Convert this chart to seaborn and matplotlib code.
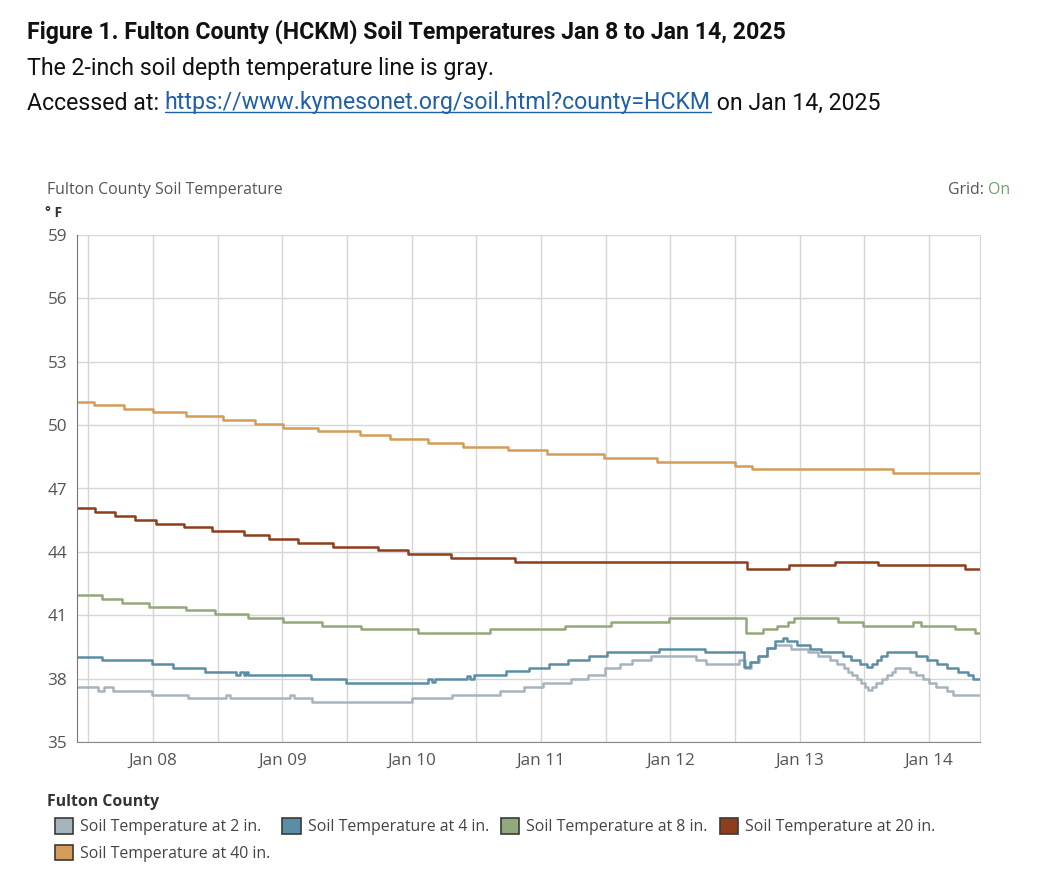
import numpy as np
import pandas as pd
import matplotlib
matplotlib.use("Agg")
import matplotlib.pyplot as plt
import matplotlib.dates as mdates
from matplotlib.patches import Patch
from matplotlib.lines import Line2D
import seaborn as sns

START = pd.Timestamp("2025-01-07 00:00")

# breakpoints: hours after Jan 7 00:00, value holds until next breakpoint
t2 = [10, 13.8, 15, 16.6, 23.8, 30.5, 37.5, 38.3, 49.4, 50.1, 53.6, 72.1, 79.5, 88.4,
      92.8, 96.3, 101.5, 104.8, 107.9, 110.7, 112.9, 116.4, 124.7, 126.7, 132.8, 133.8,
      135, 136.5, 138, 139.4, 142.4, 145.6, 147.5, 149.7, 151, 152.3, 153, 153.8, 154.7,
      155.5, 156.2, 156.8, 157.4, 158.2, 159.4, 160.3, 161.2, 161.7, 164.5, 165.6, 166.9,
      168.1, 169.4, 171.3, 172.5, 177.5]
v2 = [37.6, 37.43, 37.6, 37.43, 37.24, 37.07, 37.24, 37.07, 37.24, 37.07, 36.89, 37.07,
      37.24, 37.43, 37.6, 37.79, 37.98, 38.16, 38.5, 38.69, 38.88, 39.06, 38.88, 38.69,
      38.88, 38.5, 38.77, 39.06, 39.45, 39.61, 39.42, 39.25, 39.06, 38.88, 38.69, 38.5,
      38.33, 38.16, 37.98, 37.79, 37.6, 37.48, 37.6, 37.79, 37.98, 38.16, 38.33, 38.5,
      38.33, 38.16, 37.98, 37.79, 37.6, 37.43, 37.24, 37.24]

t4 = [10, 14.6, 23.8, 27.8, 33.7, 39.5, 40.2, 40.9, 41.3, 41.7, 53.3, 59.8, 75, 75.8,
      76.4, 82.2, 82.9, 83.5, 89.6, 93.7, 97.5, 101.1, 105, 108.2, 118, 126.5, 133.7,
      134.8, 136.3, 138, 139.4, 141, 141.7, 143.6, 146, 147.9, 152, 153.5, 155.2, 156.5,
      157.4, 158.3, 159.2, 160.2, 165.7, 167.6, 169.5, 171.3, 173.5, 175.2, 176.2, 177.5]
v4 = [39.03, 38.87, 38.69, 38.51, 38.33, 38.16, 38.33, 38.16, 38.33, 38.16, 37.98, 37.79,
      37.98, 37.85, 37.98, 38.12, 37.98, 38.16, 38.35, 38.52, 38.69, 38.88, 39.06, 39.25,
      39.42, 39.25, 38.55, 38.77, 39.06, 39.45, 39.77, 39.93, 39.77, 39.61, 39.42, 39.25,
      39.06, 38.88, 38.69, 38.55, 38.69, 38.88, 39.06, 39.25, 39.06, 38.88, 38.69, 38.52,
      38.33, 38.16, 37.98, 37.98]

t8 = [10, 14.6, 18.2, 23.3, 30.1, 35.6, 41.6, 48.2, 55.3, 62.7, 73.2, 86.6, 100.5, 109,
      119.7, 134, 137.2, 139.8, 141.8, 143, 151.2, 155.8, 165, 166.6, 172.9, 176.6, 177.5]
v8 = [41.97, 41.79, 41.6, 41.41, 41.23, 41.05, 40.87, 40.69, 40.51, 40.33, 40.15, 40.33,
      40.5, 40.68, 40.87, 40.16, 40.33, 40.5, 40.68, 40.87, 40.68, 40.51, 40.68, 40.51,
      40.33, 40.16, 40.16]

t20 = [10, 13.2, 16.9, 20.6, 24.5, 29.7, 35, 40.9, 45.5, 51, 57.5, 65.8, 71.4, 79.4,
       91.2, 134.3, 142, 150.6, 158.6, 174.7, 177.5]
v20 = [46.07, 45.88, 45.7, 45.52, 45.34, 45.17, 44.98, 44.81, 44.62, 44.44, 44.25, 44.09,
       43.9, 43.72, 43.54, 43.19, 43.38, 43.54, 43.38, 43.19, 43.19]

t40 = [10, 13, 18.7, 24, 30.1, 37, 42.9, 48.2, 54.7, 62.4, 68, 75.1, 81.6, 89.9, 97.2,
       107.7, 117.6, 132, 135.1, 161.4, 177.5]
v40 = [51.1, 50.95, 50.77, 50.6, 50.42, 50.24, 50.06, 49.88, 49.7, 49.52, 49.34, 49.16,
       48.98, 48.8, 48.62, 48.44, 48.26, 48.08, 47.9, 47.72, 47.72]

labels = ["Soil Temperature at 2 in.", "Soil Temperature at 4 in.",
          "Soil Temperature at 8 in.", "Soil Temperature at 20 in.",
          "Soil Temperature at 40 in."]
colors = ["#a6b4bc", "#5b8ea5", "#93a87b", "#8c3f1a", "#d49c58"]

frames = []
for lab, tt, vv in zip(labels, [t2, t4, t8, t20, t40], [v2, v4, v8, v20, v40]):
    frames.append(pd.DataFrame({"time": START + pd.to_timedelta(tt, unit="h"),
                                "temp": vv, "series": lab}))
df = pd.concat(frames, ignore_index=True)

sns.set_style("white")
plt.rcParams["font.family"] = ["Open Sans", "DejaVu Sans"]

fig = plt.figure(figsize=(10.38, 8.96), dpi=100)
ax = fig.add_axes([77 / 1038, 1 - 742 / 896, (980 - 77) / 1038, (742 - 235) / 896])

sns.lineplot(data=df, x="time", y="temp", hue="series", palette=dict(zip(labels, colors)),
             estimator=None, drawstyle="steps-post", linewidth=1.8, legend=False, ax=ax)

ax.set_xlim(START + pd.Timedelta(hours=9.9), START + pd.Timedelta(hours=177.5))
ax.set_ylim(35, 59)
ax.set_yticks(np.arange(35, 60, 3))
ax.xaxis.set_major_locator(mdates.DayLocator())
ax.xaxis.set_major_formatter(mdates.DateFormatter("%b %d"))
ax.xaxis.set_minor_locator(mdates.HourLocator(byhour=[12]))
ax.grid(True, which="both", color="#d6d6d6", linewidth=1.0)
ax.set_axisbelow(True)
ax.set_xlabel("")
ax.set_ylabel("")
ax.tick_params(axis="both", which="major", colors="#777777", labelcolor="#555555",
               labelsize=12.3, length=5, width=1, direction="out")
ax.tick_params(axis="x", which="minor", length=0)
ax.tick_params(axis="y", pad=2)
ax.tick_params(axis="x", pad=3)
ax.spines["top"].set_visible(False)
ax.spines["left"].set_color("#777777")
ax.spines["bottom"].set_color("#888888")
ax.spines["right"].set_color("#d6d6d6")

# caption above chart
CAP = 16.7
fig.text(27 / 1038, 1 - 32 / 896, "Figure 1. Fulton County (HCKM) Soil Temperatures Jan 8 to Jan 14, 2025",
         fontsize=CAP, fontweight="bold", family="Roboto", va="center", ha="left", color="#111111")
fig.text(27 / 1038, 1 - 68 / 896, "The 2-inch soil depth temperature line is gray.",
         fontsize=CAP, family="Roboto", va="center", ha="left", color="#111111")

fig.canvas.draw()
r = fig.canvas.get_renderer()
ypos = 1 - 103 / 896
t1 = fig.text(27 / 1038, ypos, "Accessed at: ", fontsize=CAP, family="Roboto",
              va="center", ha="left", color="#111111")
x1 = t1.get_window_extent(r).x1 / fig.bbox.width
tl = fig.text(x1, ypos, "https://www.kymesonet.org/soil.html?county=HCKM", fontsize=CAP,
              family="Roboto", va="center", ha="left", color="#2060a8")
bb = tl.get_window_extent(r)
x2 = bb.x1 / fig.bbox.width
fig.add_artist(Line2D([x1, x2], [(bb.y0 + 2) / fig.bbox.height] * 2, color="#2060a8", linewidth=1.0))
fig.text(x2, ypos, " on Jan 14, 2025", fontsize=CAP, family="Roboto",
         va="center", ha="left", color="#111111")

# chart header
HDR = 11.4
fig.text(47 / 1038, 1 - 190 / 896, "Fulton County Soil Temperature", fontsize=HDR,
         color="#555555", va="center", ha="left")
tg = fig.text(1010 / 1038, 1 - 190 / 896, "On", fontsize=HDR, color="#6aa56a",
              va="center", ha="right")
gx = tg.get_window_extent(r).x0 / fig.bbox.width
fig.text(gx, 1 - 190 / 896, "Grid: ", fontsize=HDR, color="#555555", va="center", ha="right")
fig.text(45 / 1038, 1 - 213 / 896, "° F", fontsize=10, fontweight="bold", color="#333333",
         va="center", ha="left")

# legend, ordered so that matplotlib's column fill reads row by row
fig.text(47 / 1038, 1 - 802 / 896, "Fulton County", fontsize=HDR, fontweight="bold",
         color="#333333", va="center", ha="left")
order = [0, 4, 1, 2, 3]
handles = [Patch(facecolor=colors[i], edgecolor="#3a3a3a", linewidth=1.2, label=labels[i])
           for i in order]
leg = fig.legend(handles=handles, loc="upper left", bbox_to_anchor=(55 / 1038, 1 - 818 / 896),
                 ncol=4, frameon=False, fontsize=HDR,
                 handlelength=1.15, handleheight=1.15, handletextpad=0.45, columnspacing=0.75,
                 labelspacing=0.6, borderaxespad=0, borderpad=0)
for txt in leg.get_texts():
    txt.set_color("#444444")

fig.savefig("out.png", dpi=100, facecolor="white")
